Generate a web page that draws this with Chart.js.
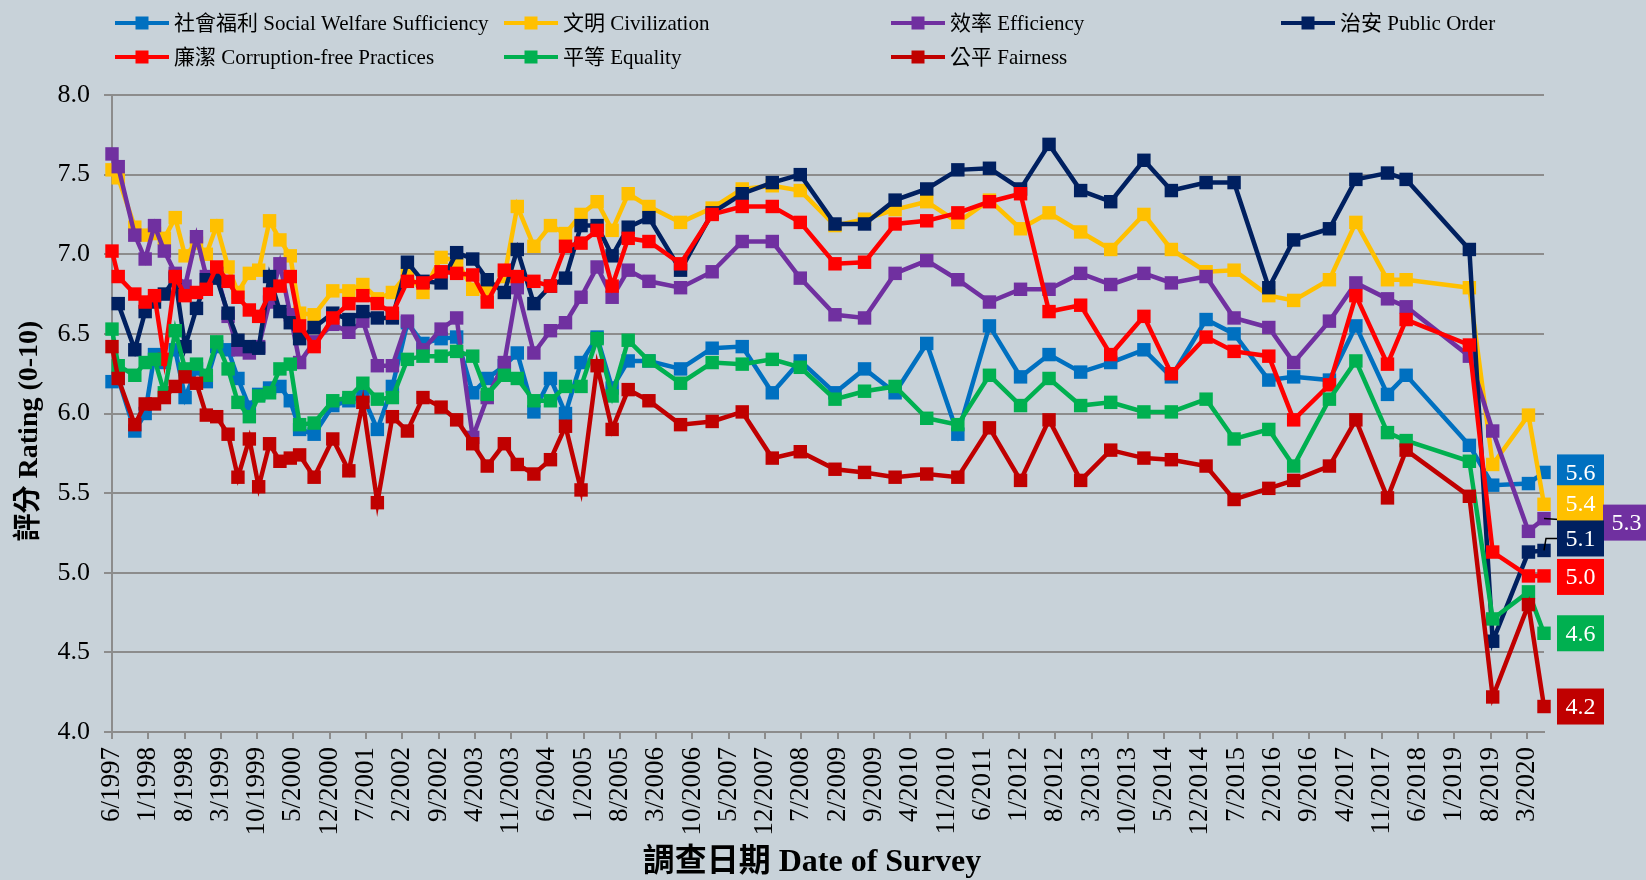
<!DOCTYPE html>
<html><head><meta charset="utf-8">
<script src="https://cdn.jsdelivr.net/npm/chart.js@4.4.1/dist/chart.umd.min.js"></script>
<style>
html,body{margin:0;padding:0;background:#C8D2D9;}
#wrap{position:relative;width:1646px;height:880px;}
</style></head><body>
<div id="wrap"><canvas id="c" width="1646" height="880"></canvas></div>
<script>
// ---------- DATA ----------
const surveyDates = [
"1997-06-01","1997-07-07","1997-10-13","1997-12-13","1998-02-07","1998-04-04","1998-06-07","1998-08-04","1998-10-10","1998-12-07",
"1999-02-07","1999-04-13","1999-06-10","1999-08-16","1999-10-10","1999-12-13","2000-02-13","2000-04-13","2000-06-07","2000-09-01",
"2000-12-19","2001-03-22","2001-06-13","2001-09-07","2001-12-04","2002-03-01","2002-06-01","2002-09-16","2002-12-16","2003-03-19",
"2003-06-13","2003-09-22","2003-12-07","2004-03-13","2004-06-19","2004-09-16","2004-12-16","2005-03-19","2005-06-16","2005-09-19",
"2006-01-19","2006-07-22","2007-01-25","2007-07-19","2008-01-13","2008-06-25","2009-01-16","2009-07-07","2010-01-04","2010-07-07",
"2011-01-07","2011-07-10","2012-01-10","2012-06-25","2012-12-28","2013-06-22","2014-01-04","2014-06-13","2015-01-04","2015-06-16",
"2016-01-07","2016-06-01","2016-12-28","2017-06-01","2017-12-04","2018-03-22","2019-03-28","2019-08-13","2020-03-10","2020-06-10"];

const tickLabels = ["6/1997","1/1998","8/1998","3/1999","10/1999","5/2000","12/2000","7/2001","2/2002","9/2002",
"4/2003","11/2003","6/2004","1/2005","8/2005","3/2006","10/2006","5/2007","12/2007","7/2008",
"2/2009","9/2009","4/2010","11/2010","6/2011","1/2012","8/2012","3/2013","10/2013","5/2014",
"12/2014","7/2015","2/2016","9/2016","4/2017","11/2017","6/2018","1/2019","8/2019","3/2020"];

const seriesNames = ["社會福利 Social Welfare Sufficiency","文明 Civilization","效率 Efficiency","治安 Public Order",
"廉潔 Corruption-free Practices","平等 Equality","公平 Fairness"];

const socialWelfare = [6.20,6.22,5.89,6.00,6.37,6.32,6.40,6.10,6.28,6.20,
6.42,6.40,6.22,6.04,6.12,6.16,6.17,6.08,5.90,5.87,
6.05,6.08,6.11,5.90,6.17,6.57,6.44,6.47,6.48,6.13,
6.22,6.30,6.38,6.01,6.22,6.00,6.32,6.48,6.16,6.33,
6.33,6.28,6.41,6.42,6.13,6.33,6.13,6.28,6.13,6.44,
5.87,6.55,6.23,6.37,6.26,6.32,6.40,6.23,6.59,6.50,
6.21,6.23,6.21,6.55,6.12,6.24,5.80,5.55,5.56,5.63];

const civilization = [7.53,7.48,7.17,7.12,7.13,7.10,7.23,6.99,7.07,7.00,
7.18,6.92,6.76,6.88,6.90,7.21,7.09,6.99,6.63,6.62,
6.77,6.77,6.81,6.72,6.76,6.88,6.76,6.98,6.96,6.78,
6.76,6.86,7.30,7.05,7.18,7.13,7.25,7.33,7.15,7.38,
7.30,7.20,7.29,7.41,7.43,7.40,7.18,7.22,7.28,7.33,
7.20,7.34,7.16,7.26,7.14,7.03,7.25,7.03,6.89,6.90,
6.74,6.71,6.84,7.20,6.84,6.84,6.79,5.68,5.99,5.43];

const efficiency = [7.63,7.55,7.12,6.97,7.18,7.02,6.88,6.80,7.11,6.86,
6.88,6.61,6.40,6.38,6.42,6.70,6.94,6.62,6.32,6.45,
6.56,6.51,6.58,6.30,6.30,6.58,6.40,6.53,6.60,5.85,
6.10,6.32,6.79,6.38,6.52,6.57,6.73,6.92,6.73,6.90,
6.83,6.79,6.89,7.08,7.08,6.85,6.62,6.60,6.88,6.96,
6.84,6.70,6.78,6.78,6.88,6.81,6.88,6.82,6.86,6.60,
6.54,6.32,6.58,6.82,6.72,6.67,6.36,5.89,5.26,5.34];

const publicOrder = [null,6.69,6.40,6.64,6.70,6.75,6.85,6.42,6.66,6.84,
6.85,6.63,6.46,6.42,6.41,6.86,6.64,6.57,6.47,6.54,
6.63,6.59,6.64,6.60,6.60,6.95,6.83,6.82,7.01,6.97,
6.84,6.76,7.03,6.69,6.80,6.85,7.18,7.18,6.99,7.17,
7.23,6.90,7.26,7.38,7.45,7.50,7.19,7.19,7.34,7.41,
7.53,7.54,7.41,7.69,7.40,7.33,7.59,7.40,7.45,7.45,
6.79,7.09,7.16,7.47,7.51,7.47,7.03,4.57,5.13,5.14];

const corruptionFree = [7.02,6.86,6.75,6.70,6.74,6.34,6.86,6.74,6.76,6.78,
6.92,6.83,6.73,6.65,6.61,6.75,6.80,6.86,6.55,6.42,
6.60,6.69,6.74,6.69,6.63,6.83,6.82,6.89,6.88,6.87,
6.70,6.90,6.86,6.83,6.80,7.05,7.07,7.15,6.80,7.10,
7.08,6.94,7.25,7.30,7.30,7.20,6.94,6.95,7.19,7.21,
7.26,7.33,7.38,6.64,6.68,6.37,6.61,6.25,6.48,6.39,
6.36,5.96,6.18,6.74,6.31,6.59,6.43,5.13,4.98,4.98];

const equality = [6.53,6.30,6.24,6.32,6.34,6.13,6.52,6.28,6.31,6.24,
6.45,6.28,6.07,5.98,6.11,6.13,6.28,6.31,5.93,5.94,
6.08,6.10,6.19,6.09,6.10,6.34,6.36,6.36,6.39,6.36,
6.12,6.24,6.22,6.08,6.08,6.17,6.17,6.47,6.11,6.46,
6.33,6.19,6.32,6.31,6.34,6.29,6.09,6.14,6.17,5.97,
5.93,6.24,6.05,6.22,6.05,6.07,6.01,6.01,6.09,5.84,
5.90,5.67,6.09,6.33,5.88,5.83,5.70,4.71,4.88,4.62];

const fairness = [6.42,6.22,5.93,6.06,6.06,6.10,6.17,6.23,6.19,5.99,
5.98,5.87,5.60,5.84,5.54,5.81,5.70,5.72,5.74,5.60,
5.84,5.64,6.07,5.44,5.98,5.89,6.10,6.04,5.96,5.81,
5.67,5.81,5.68,5.62,5.71,5.92,5.52,6.30,5.90,6.15,
6.08,5.93,5.95,6.01,5.72,5.76,5.65,5.63,5.60,5.62,
5.60,5.91,5.58,5.96,5.58,5.77,5.72,5.71,5.67,5.46,
5.53,5.58,5.67,5.96,5.47,5.77,5.48,4.22,4.80,4.16];

const yMin = 4.0, yMax = 8.0, yStep = 0.5;

// ---------- STYLE ----------
const colors = ["#0070C0","#FFC000","#7030A0","#002060","#FF0000","#00B050","#C00000"];
const BG = "#C8D2D9";
const GRID = "#8C8C8C";
const FAMILY = '"Liberation Serif", "Noto Sans CJK TC", serif';
const legendSlots = [[115,23],[504,23],[891,23],[1281,23],[115,57],[504,57],[891,57]];
const labelPlacement = [
  {dx:13,dy:0},{dx:13,dy:-1},{dx:59,dy:4,leader:"straight"},{dx:13,dy:-12,leader:"elbow"},
  {dx:13,dy:1},{dx:13,dy:0},{dx:13,dy:0}];

// ---------- HELPERS ----------
function monthIndex(s){
  const p = s.split('-').map(Number);
  return (p[0]-1997)*12 + (p[1]-6) + ((p[2]||1)-1)/30;
}
function labelMonth(t){
  const [m,y] = t.split('/').map(Number);
  return (y-1997)*12 + (m-6);
}
const xs = surveyDates.map(monthIndex);
const allSeries = [socialWelfare, civilization, efficiency, publicOrder, corruptionFree, equality, fairness];

const datasets = allSeries.map((vals,i)=>({
  label: seriesNames[i],
  data: vals.map((v,j)=>({x: xs[j], y: v})),
  borderColor: colors[i],
  backgroundColor: colors[i],
  borderWidth: 4.5,
  pointStyle: 'rect',
  pointRadius: 9.5,
  pointBorderWidth: 0,
  pointBackgroundColor: colors[i],
  tension: 0,
  spanGaps: true,
  clip: false,
  order: allSeries.length - 1 - i
}));

const bgPlugin = {
  id:'bg',
  beforeDraw(chart){
    const ctx = chart.ctx;
    ctx.save(); ctx.fillStyle = BG; ctx.fillRect(0,0,chart.width,chart.height); ctx.restore();
  }
};

const legendPlugin = {
  id:'gridLegend',
  afterDraw(chart){
    const ctx = chart.ctx;
    chart.data.datasets.forEach((ds,i)=>{
      const [x,y] = legendSlots[i];
      ctx.save();
      ctx.strokeStyle = ds.borderColor; ctx.lineWidth = 4;
      ctx.beginPath(); ctx.moveTo(x,y); ctx.lineTo(x+54,y); ctx.stroke();
      ctx.fillStyle = ds.borderColor; ctx.fillRect(x+27-6.5,y-6.5,13,13);
      ctx.fillStyle = '#000'; ctx.font = '21px ' + FAMILY;
      ctx.textBaseline = 'middle'; ctx.textAlign = 'left';
      ctx.fillText(ds.label, x+59, y+1);
      ctx.restore();
    });
  }
};

const endLabelPlugin = {
  id:'endLabels',
  afterDatasetsDraw(chart){
    const ctx = chart.ctx;
    const W = 47, H = 36;
    const pts = chart.data.datasets.map((ds,i)=>{
      const meta = chart.getDatasetMeta(i);
      const el = meta.data[meta.data.length-1];
      const vals = allSeries[i];
      return {x: el.x, y: el.y, v: vals[vals.length-1], c: colors[i], p: labelPlacement[i]};
    });
    ctx.save();
    ctx.strokeStyle = '#000'; ctx.lineWidth = 1.5;
    pts.forEach(o=>{
      if (o.p.leader === 'straight'){
        ctx.beginPath(); ctx.moveTo(o.x, o.y); ctx.lineTo(o.x+o.p.dx, o.y+o.p.dy); ctx.stroke();
      } else if (o.p.leader === 'elbow'){
        ctx.beginPath(); ctx.moveTo(o.x, o.y); ctx.lineTo(o.x+2, o.y+o.p.dy); ctx.lineTo(o.x+o.p.dx, o.y+o.p.dy); ctx.stroke();
      }
    });
    pts.forEach(o=>{
      const bx = o.x + o.p.dx, cy = o.y + o.p.dy;
      ctx.fillStyle = o.c; ctx.fillRect(bx, cy - H/2, W, H);
      ctx.fillStyle = '#fff'; ctx.font = '24px ' + FAMILY;
      ctx.textAlign = 'center'; ctx.textBaseline = 'middle';
      ctx.fillText(o.v.toFixed(1), bx + W/2, cy + 1);
    });
    ctx.restore();
  }
};

new Chart(document.getElementById('c'), {
  type: 'line',
  data: { datasets },
  options: {
    responsive: false,
    animation: false,
    events: [],
    layout: { padding: { top: 95, right: 102, left: 0, bottom: 0 } },
    plugins: { legend: { display: false }, tooltip: { enabled: false } },
    scales: {
      x: {
        type: 'linear',
        min: 0,
        max: xs[xs.length-1],
        afterBuildTicks: (axis) => { axis.ticks = tickLabels.map(t => ({ value: labelMonth(t) })); },
        afterFit: (s) => { s.height = 148; },
        ticks: {
          autoSkip: false, minRotation: 90, maxRotation: 90, padding: 8,
          color: '#000', font: { family: FAMILY, size: 27 },
          callback: (v, i) => tickLabels[i]
        },
        grid: { drawOnChartArea: false, drawTicks: true, tickLength: 7, color: GRID, lineWidth: 2 },
        border: { display: true, color: GRID, width: 2 },
        title: { display: true, text: '調查日期 Date of Survey    ', color: '#000',
          font: { family: FAMILY, size: 32, weight: 'bold', lineHeight: 1.2 }, padding: { top: 0, bottom: -2 } }
      },
      y: {
        min: yMin, max: yMax,
        afterFit: (s) => { s.width = 112; },
        ticks: { stepSize: yStep, padding: 14, color: '#000', font: { family: FAMILY, size: 26 },
          callback: (v) => Number(v).toFixed(1) },
        grid: { color: GRID, lineWidth: 2, tickLength: 8, drawTicks: true },
        border: { display: true, color: GRID, width: 2 },
        title: { display: true, text: '評分 Rating (0-10)     ', color: '#000',
          font: { family: FAMILY, size: 28, weight: 'bold', lineHeight: 1.2 }, padding: { top: 13, bottom: 0 } }
      }
    }
  },
  plugins: [bgPlugin, legendPlugin, endLabelPlugin]
});
</script>
</body></html>
